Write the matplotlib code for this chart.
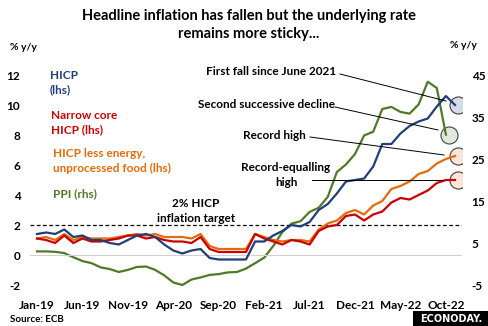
import matplotlib
matplotlib.use('Agg')
import matplotlib.pyplot as plt
import numpy as np

# monthly y/y %, Jan-19 .. Nov-22
hicp = [1.4, 1.5, 1.4, 1.7, 1.2, 1.3, 1.0, 1.0, 0.8, 0.7, 1.0, 1.3,
        1.4, 1.2, 0.7, 0.3, 0.1, 0.3, 0.4, -0.2, -0.3, -0.3, -0.3, -0.3,
        0.9, 0.9, 1.3, 1.6, 2.0, 1.9, 2.2, 3.0, 3.4, 4.1, 4.9, 5.0,
        5.1, 5.9, 7.4, 7.4, 8.1, 8.6, 8.9, 9.1, 9.9, 10.6, 10.0]
core = [1.1, 1.0, 0.8, 1.3, 0.8, 1.1, 0.9, 0.9, 1.0, 1.1, 1.3, 1.3,
        1.1, 1.2, 1.0, 0.9, 0.9, 0.8, 1.2, 0.4, 0.2, 0.2, 0.2, 0.2,
        1.4, 1.1, 0.9, 0.7, 1.0, 0.9, 0.7, 1.6, 1.9, 2.0, 2.6, 2.7,
        2.3, 2.7, 2.9, 3.5, 3.8, 3.7, 4.0, 4.3, 4.8, 5.0, 5.0]
less_ef = [1.1, 1.2, 1.0, 1.4, 1.0, 1.2, 1.1, 1.1, 1.1, 1.2, 1.3, 1.4,
           1.3, 1.4, 1.2, 1.2, 1.2, 1.1, 1.4, 0.6, 0.4, 0.4, 0.4, 0.4,
           1.4, 1.2, 1.0, 0.9, 1.0, 1.0, 0.9, 1.7, 2.1, 2.3, 2.8, 3.0,
           2.7, 3.3, 3.6, 4.4, 4.6, 4.9, 5.4, 5.6, 6.1, 6.4, 6.6]
# Jan-19 .. Oct-22
ppi = [3.0, 3.0, 2.9, 2.6, 1.6, 0.7, 0.2, -0.8, -1.2, -1.9, -1.4, -0.7,
       -0.6, -1.4, -2.7, -4.4, -5.0, -3.7, -3.2, -2.6, -2.4, -2.0, -1.9, -1.1,
       0.2, 1.5, 4.3, 7.6, 9.6, 10.2, 12.4, 13.4, 16.0, 21.9, 23.7, 26.2,
       30.6, 31.5, 36.9, 37.4, 36.2, 35.8, 38.0, 43.4, 41.9, 30.8]

tick_labels = ['Jan-19', 'Jun-19', 'Nov-19', 'Apr-20', 'Sep-20', 'Feb-21',
               'Jul-21', 'Dec-21', 'May-22', 'Oct-22']
left_ticks = [-2, 0, 2, 4, 6, 8, 10, 12]
right_ticks = [-5, 5, 15, 25, 35, 45]
target = 2

c_hicp = '#203f7a'
c_core = '#cc0000'
c_less = '#e36c0a'
c_ppi = '#4f7a28'

plt.rcParams['font.family'] = ['Lato', 'DejaVu Sans']
plt.rcParams['font.weight'] = 'bold'

W, H = 489, 326
fig = plt.figure(figsize=(W / 100, H / 100), dpi=100)
ax = fig.add_axes([30 / W, (H - 290) / H, 432 / W, 220 / H])
ax2 = ax.twinx()

pxm = 418 / 46
ax.set_xlim(-7 / pxm, 46 + 7 / pxm)
ax.set_ylim(-2 - 5 / 15, 12 + 5 / 15)
lo, hi = ax.get_ylim()
ax2.set_ylim(-5 + (lo + 2) * 50 / 14, -5 + (hi + 2) * 50 / 14)

for a in (ax, ax2):
    for s in a.spines.values():
        s.set_visible(False)

x = np.arange(len(hicp))
xp = np.arange(len(ppi))

def to_right(v):
    return -5 + (v + 2) * 50 / 14

# end-point circles, drawn on the back (rhs) axes so every line sits on top
n = len(hicp) - 1
circles = [(n, to_right(hicp[-1]), '#d6dce5'),
           (len(ppi) - 1, ppi[-1], '#e2e9dc'),
           (n, to_right(less_ef[-1]), '#fbe5d6'),
           (n, to_right(core[-1]), '#fbe5d6')]
for cx, cy, fc in circles:
    ax2.scatter([cx + 0.3], [cy], s=150, facecolor=fc, edgecolor='#404040',
                linewidth=0.8, zorder=1)

ax2.plot(xp, ppi, color=c_ppi, lw=1.6, zorder=3)
ax2.set_zorder(ax.get_zorder() - 1)
ax.patch.set_visible(False)

ax.axhline(0, color='#d0d0d0', lw=0.8, zorder=1)
ax.axhline(target, color='black', lw=0.9, ls=(0, (3, 2)), zorder=1)
ax.plot(x, less_ef, color=c_less, lw=1.6, zorder=3)
ax.plot(x, core, color=c_core, lw=1.6, zorder=3)
ax.plot(x, hicp, color=c_hicp, lw=1.6, zorder=4)

ax.set_xticks(np.arange(0, 46, 5))
ax.set_xticklabels(tick_labels, fontsize=8.5, fontweight='bold')
ax.set_yticks(left_ticks)
ax.set_yticklabels([str(v) for v in left_ticks], fontsize=8.5, fontweight='bold')
ax2.set_yticks(right_ticks)
ax2.set_yticklabels([str(v) for v in right_ticks], fontsize=8.5, fontweight='bold')
ax.tick_params(length=0, pad=7)
ax2.tick_params(length=0, pad=7)

# annotation lines and texts
notes = [('First fall since June 2021', 271, 71, (340, 74), (446, 101)),
         ('Second successive decline', 267, 104, (335, 107), (438, 130)),
         ('Record high', 274, 135, (310, 137), (444, 155)),
         ('Record-equalling\nhigh', 286, 175, (312, 180), (443, 180))]
inv = ax.transData.inverted()
def px(xx, yy):
    return inv.transform((xx, H - yy))
for txt, tx, ty, p0, p1 in notes:
    ax.text(*px(tx, ty), txt, fontsize=8.5, fontweight='bold', ha='center',
            va='center', linespacing=1.35, zorder=6)
    a0 = px(*p0)
    a1 = px(*p1)
    ax.plot([a0[0], a1[0]], [a0[1], a1[1]], color='black', lw=0.7, zorder=5)

ax.text(*px(196, 211), '2% HICP\ninflation target', fontsize=8.5, fontweight='bold',
        ha='center', va='center', linespacing=1.35)

# series labels
ax.text(*px(50, 83), 'HICP\n(lhs)', color=c_hicp, fontsize=8.5, fontweight='bold',
        ha='left', va='center', linespacing=1.35)
ax.text(*px(51, 123), 'Narrow core\nHICP (lhs)', color=c_core, fontsize=8.5,
        fontweight='bold', ha='left', va='center', linespacing=1.35)
ax.text(*px(53, 161), 'HICP less energy,\nunprocessed food (lhs)', color=c_less,
        fontsize=8.5, fontweight='bold', ha='left', va='center', linespacing=1.35)
ax.text(*px(53, 194), 'PPI (rhs)', color=c_ppi, fontsize=8.5, fontweight='bold',
        ha='left', va='center')

fig.text(249 / W, 1 - 25 / H,
         'Headline inflation has fallen but the underlying rate\nremains more sticky...',
         ha='center', va='center', fontsize=10.5, fontweight='bold', linespacing=1.4)
fig.text(10 / W, 1 - 47 / H, '% y/y', fontsize=7.5, fontweight='bold', va='center')
fig.text(450 / W, 1 - 46 / H, '% y/y', fontsize=7.5, fontweight='bold', va='center')
fig.text(10 / W, 1 - 319 / H, 'Source: ECB', fontsize=7, fontweight='bold', va='center')

fig.patches.append(plt.Rectangle((413 / W, 0), 76 / W, 15 / H, transform=fig.transFigure,
                                 facecolor='black', edgecolor='none'))
fig.text(451 / W, 7.5 / H, 'ECONODAY.', color='white', fontsize=7, fontweight='bold',
         ha='center', va='center', family=['DejaVu Sans'])

fig.savefig('out.png', dpi=100)
